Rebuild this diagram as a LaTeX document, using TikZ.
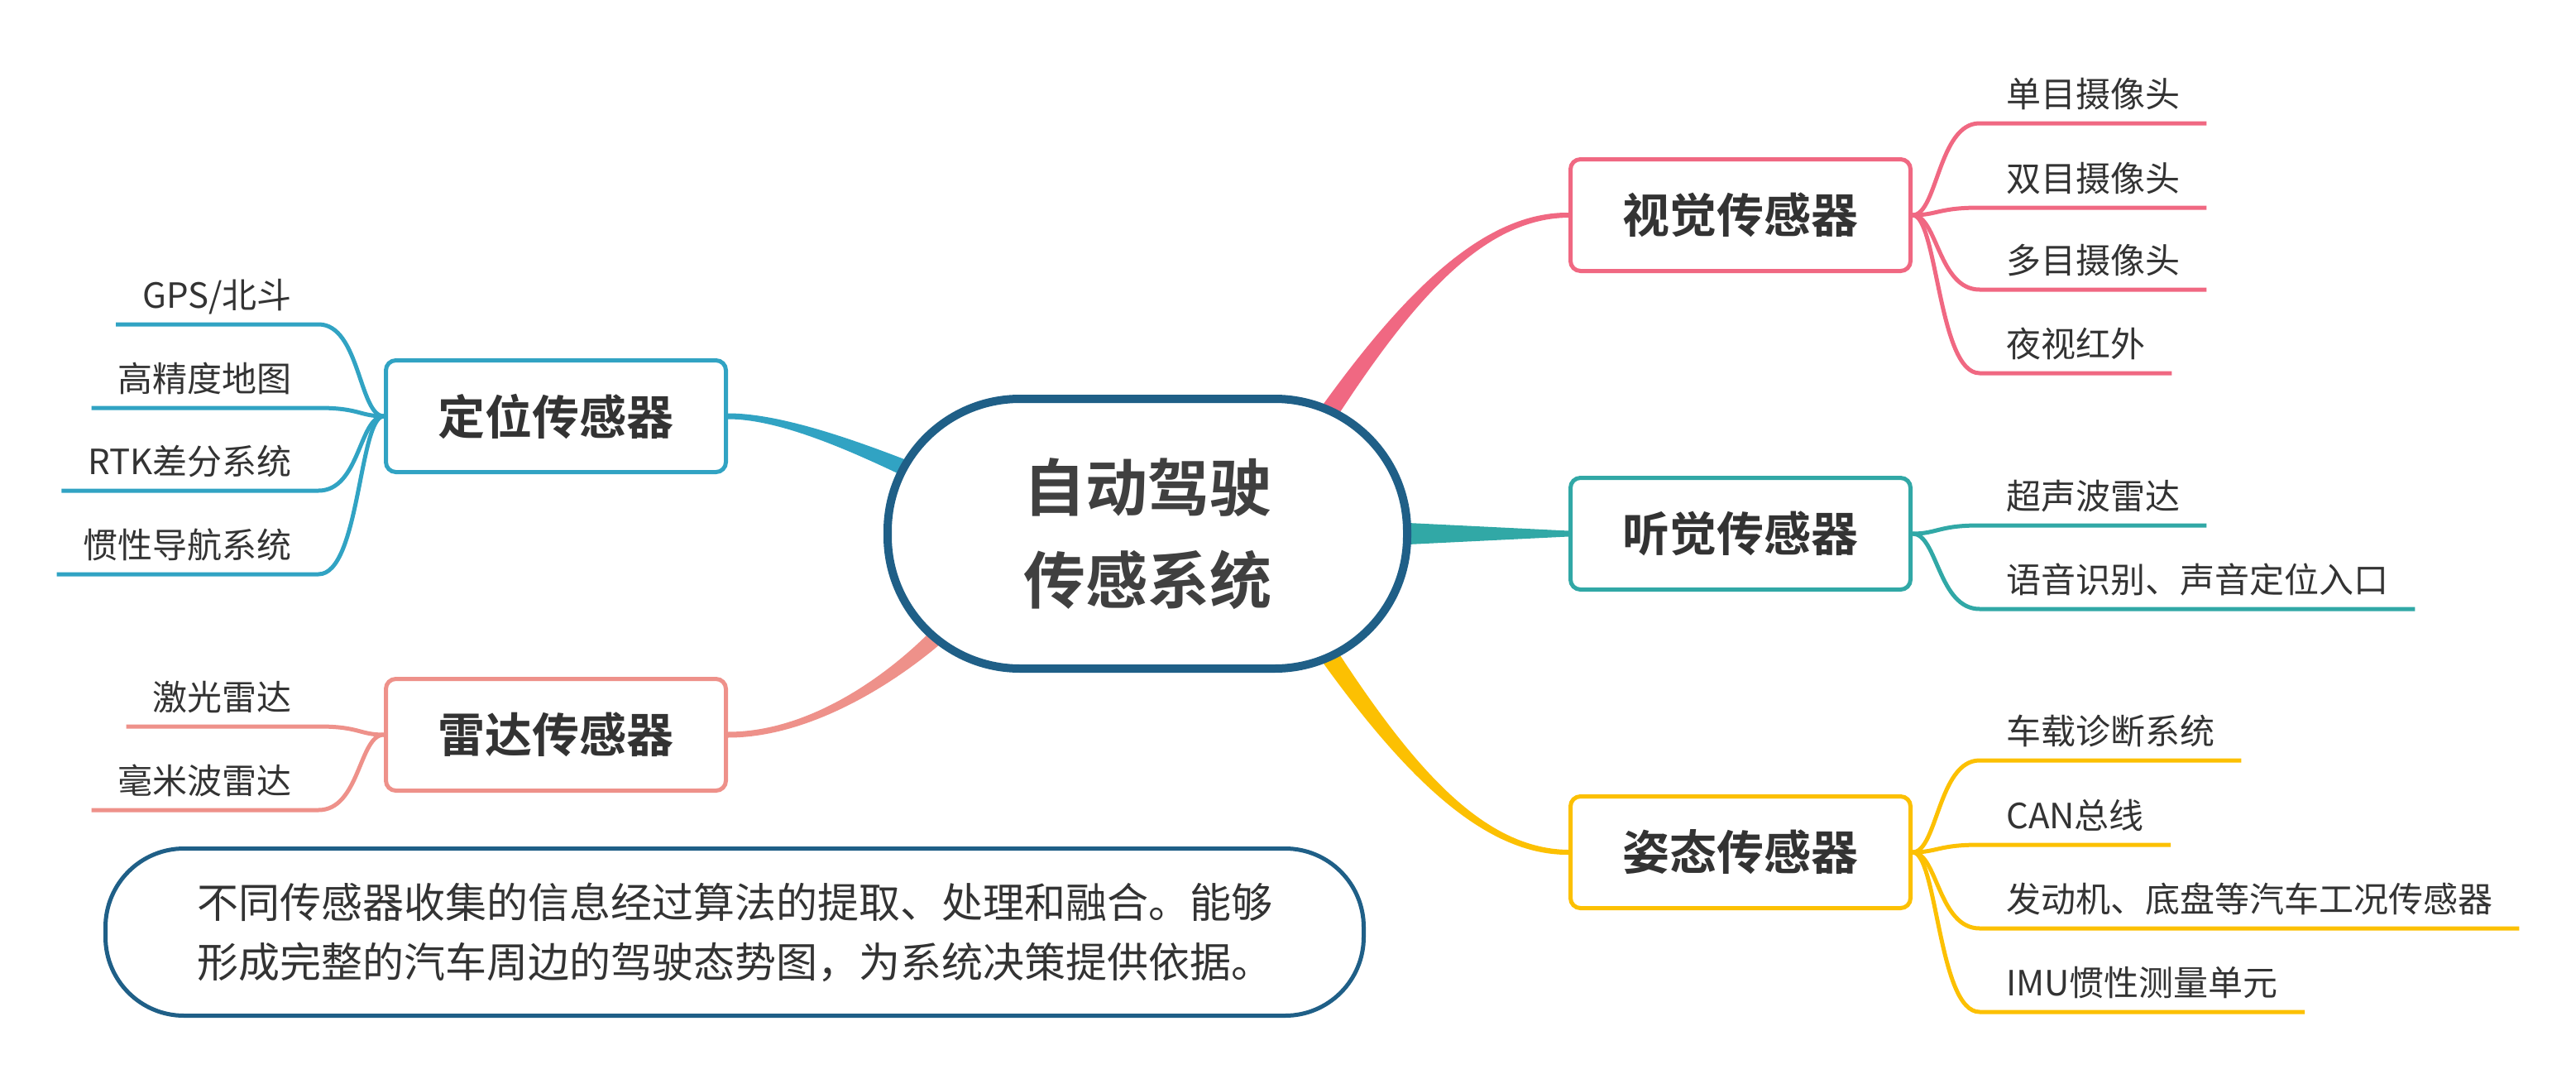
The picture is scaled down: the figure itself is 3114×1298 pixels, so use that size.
\documentclass[tikz,border=0pt]{standalone}
\usepackage{fontspec}
\setmainfont{Noto Sans CJK SC}[BoldFont={* Bold}]
\usetikzlibrary{backgrounds}
\definecolor{pinkc}{HTML}{F06882}
\definecolor{tealc}{HTML}{31A8A6}
\definecolor{yellowc}{HTML}{FCC002}
\definecolor{bluec}{HTML}{31A3C3}
\definecolor{salmonc}{HTML}{EE918A}
\definecolor{hubblue}{HTML}{1F5F87}
\definecolor{textgray}{HTML}{333333}
\definecolor{hubtext}{HTML}{404040}

\begin{document}
\begin{tikzpicture}[x=1pt, y=-1pt,
    hub/.style={draw=hubblue, line width=10pt, fill=white, rounded corners=160pt,
                minimum width=628pt, minimum height=326pt, align=center, text=hubtext,
                font=\fontsize{75pt}{112pt}\selectfont\bfseries},
    sensor/.style={draw=#1, line width=5pt, fill=white, rounded corners=12pt,
                minimum width=411pt, minimum height=135pt, text=textgray,
                font=\fontsize{57pt}{68pt}\selectfont\bfseries},
    leaf/.style={text=textgray, font=\fontsize{42pt}{50pt}\selectfont,
                inner xsep=32pt, inner ysep=19pt, text depth=0pt},
    leafline/.style={draw=#1, line width=5pt},
    note/.style={draw=hubblue, line width=5pt, fill=white, rounded corners=95pt,
                minimum width=1521pt, minimum height=202pt, align=center, text=textgray,
                font=\fontsize{50pt}{72pt}\selectfont}
  ]
  \useasboundingbox (0,0) rectangle (3114,1298);

  \node[hub] (hub) at (1387,645) {自动驾驶\\传感系统};
  \node[sensor=pinkc]   (vis)   at (2104,260)  {视觉传感器};
  \node[sensor=tealc]   (aud)   at (2104,645)  {听觉传感器};
  \node[sensor=yellowc] (pose)  at (2104,1030) {姿态传感器};
  \node[sensor=bluec]   (loc)   at (672,503)   {定位传感器};
  \node[sensor=salmonc] (radar) at (672,888)   {雷达传感器};

  % tapered branches from the hub
  \begin{pgfonlayer}{background}
    \fill[pinkc] (1575,523.3) .. controls (1683.4,367.5) and (1786,256) .. ([yshift=3pt]vis.west)
      -- ([yshift=-3pt]vis.west) .. controls (1786,264) and (1696.6,376.5) .. (1595,536.7) -- cycle;
    \fill[tealc] (1600,627) -- ([yshift=3.5pt]aud.west) -- ([yshift=-3.5pt]aud.west) -- (1600,663) -- cycle;
    \fill[yellowc] (1575,766.7) .. controls (1683.4,922.5) and (1786,1034) .. ([yshift=-3pt]pose.west)
      -- ([yshift=3pt]pose.west) .. controls (1786,1026) and (1696.6,913.5) .. (1595,753.3) -- cycle;
    \fill[bluec] ([yshift=3.5pt]loc.east) .. controls (960,499.5) and (1083,551) .. (1154,579)
      -- (1146,601) .. controls (1077,569) and (960,506.5) .. ([yshift=-3.5pt]loc.east) -- cycle;
    \fill[salmonc] ([yshift=3.5pt]radar.east) .. controls (1000,884.5) and (1114,784) .. (1161.5,721.5)
      -- (1178.5,738.5) .. controls (1126,796) and (1000,891.5) .. ([yshift=-3.5pt]radar.east) -- cycle;
  \end{pgfonlayer}

  % leaves, right side
  \foreach \y/\t [count=\i] in {149/单目摄像头, 251/双目摄像头, 350/多目摄像头, 451/夜视红外}{
    \node[leaf, anchor=south west] (vis\i) at (2393,\y) {\t};
    \draw[leafline=pinkc] (vis.east) .. controls +(30,0) and +(-50,0) .. (vis\i.south west) -- (vis\i.south east);
  }
  \foreach \y/\t [count=\i] in {635/超声波雷达, 736/语音识别、声音定位入口}{
    \node[leaf, anchor=south west] (aud\i) at (2393,\y) {\t};
    \draw[leafline=tealc] (aud.east) .. controls +(30,0) and +(-50,0) .. (aud\i.south west) -- (aud\i.south east);
  }
  \foreach \y/\t [count=\i] in {919/车载诊断系统, 1021/CAN总线, 1122/发动机、底盘等汽车工况传感器, 1223/IMU惯性测量单元}{
    \node[leaf, anchor=south west] (pose\i) at (2393,\y) {\t};
    \draw[leafline=yellowc] (pose.east) .. controls +(30,0) and +(-50,0) .. (pose\i.south west) -- (pose\i.south east);
  }

  % leaves, left side
  \foreach \y/\t [count=\i] in {392/{GPS/北斗}, 493/高精度地图, 593/RTK差分系统, 694/惯性导航系统}{
    \node[leaf, anchor=south east] (loc\i) at (385,\y) {\t};
    \draw[leafline=bluec] (loc.west) .. controls +(-30,0) and +(50,0) .. (loc\i.south east) -- (loc\i.south west);
  }
  \foreach \y/\t [count=\i] in {878/激光雷达, 979/毫米波雷达}{
    \node[leaf, anchor=south east] (radar\i) at (385,\y) {\t};
    \draw[leafline=salmonc] (radar.west) .. controls +(-30,0) and +(50,0) .. (radar\i.south east) -- (radar\i.south west);
  }

  \node[note] (summary) at (888,1126.5)
    {不同传感器收集的信息经过算法的提取、处理和融合。能够\\形成完整的汽车周边的驾驶态势图，为系统决策提供依据。};
\end{tikzpicture}
\end{document}
